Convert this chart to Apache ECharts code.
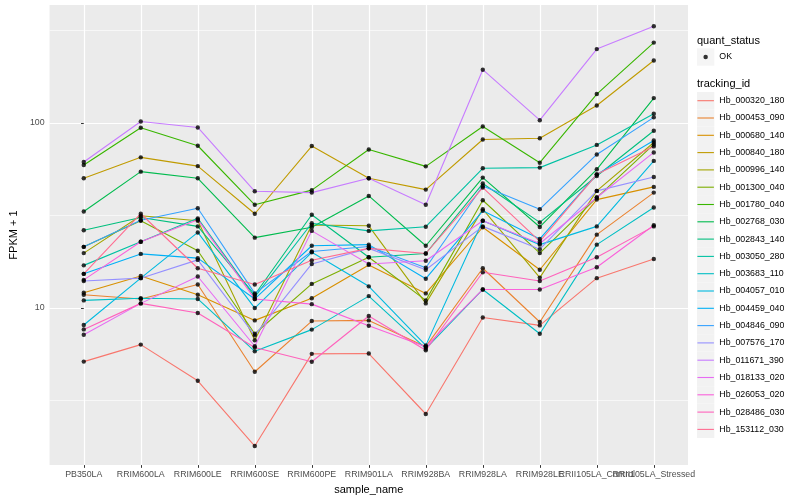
<!DOCTYPE html>
<html><head><meta charset="utf-8">
<script src="https://cdn.jsdelivr.net/npm/echarts@6/dist/echarts.min.js"></script>
<style>html,body{margin:0;padding:0;background:#fff}#c{width:800px;height:500px}</style>
</head><body><div id="c"></div>
<script>
const samples = ['PB350LA','RRIM600LA','RRIM600LE','RRIM600SE','RRIM600PE','RRIM901LA','RRIM928BA','RRIM928LA','RRIM928LE','RRII105LA_Control','RRII105LA_Stressed'];
const trackingIds = ['Hb_000320_180','Hb_000453_090','Hb_000680_140','Hb_000840_180','Hb_000996_140','Hb_001300_040','Hb_001780_040','Hb_002768_030','Hb_002843_140','Hb_003050_280','Hb_003683_110','Hb_004057_010','Hb_004459_040','Hb_004846_090','Hb_007576_170','Hb_011671_390','Hb_018133_020','Hb_026053_020','Hb_028486_030','Hb_153112_030'];
const colors = ['#F8766D','#EA8331','#D89000','#C09B00','#A3A500','#7CAE00','#39B600','#00BB4E','#00BF7D','#00C1A3','#00BFC4','#00BAE0','#00B0F6','#35A2FF','#9590FF','#C77CFF','#E76BF3','#FA62DB','#FF62BC','#FF6C91'];

const hb_000320_180 = [5.14, 6.35, 4.05, 1.80, 5.66, 5.68, 2.68, 8.90, 8.06, 14.5, 18.4];
const hb_000453_090 = [11.8, 11.2, 13.4, 4.53, 8.51, 8.58, 6.19, 16.4, 8.41, 24.9, 42.0];
const hb_000680_140 = [12.1, 14.9, 11.8, 8.58, 11.3, 17.1, 12.0, 27.3, 16.1, 38.5, 45.1];
const hb_000840_180 = [50.2, 65.1, 58.4, 32.3, 74.9, 50.2, 43.6, 81.3, 82.6, 124, 217];
const hb_000996_140 = [19.8, 31.5, 29.6, 6.70, 28.1, 27.8, 10.6, 34.2, 14.6, 42.9, 78.3];
const hb_001300_040 = [21.4, 29.6, 20.4, 7.27, 13.5, 18.8, 11.0, 38.2, 19.8, 39.5, 76.4];
const hb_001780_040 = [59.2, 94.0, 75.2, 36.1, 43.3, 71.8, 58.2, 95.5, 60.9, 143, 271];
const hb_002768_030 = [33.2, 54.5, 50.2, 24.0, 27.3, 40.3, 21.7, 50.6, 27.4, 56.1, 136];
const hb_002843_140 = [26.3, 30.8, 27.6, 11.8, 31.9, 18.8, 19.7, 47.0, 29.0, 51.6, 90.6];
const hb_003050_280 = [17.0, 22.8, 30.5, 11.5, 28.7, 26.1, 27.5, 56.8, 57.3, 76.0, 112];
const hb_003683_110 = [11.0, 11.3, 11.2, 5.84, 7.65, 11.6, 6.04, 12.6, 7.27, 22.0, 34.9];
const hb_004057_010 = [8.10, 14.5, 25.6, 10.0, 20.0, 13.1, 6.29, 29.6, 22.0, 27.6, 62.3];
const hb_004459_040 = [15.3, 19.6, 18.6, 11.2, 21.7, 22.0, 14.4, 33.5, 23.6, 52.7, 80.3];
const hb_004846_090 = [21.4, 29.8, 34.6, 12.0, 20.2, 21.5, 16.5, 45.6, 34.2, 67.5, 107];
const hb_007576_170 = [14.0, 14.5, 18.2, 7.12, 17.3, 21.0, 16.1, 27.6, 20.8, 42.9, 51.0];
const hb_011671_390 = [61.4, 101.6, 94.4, 42.7, 42.0, 50.2, 36.1, 193.5, 103.3, 250, 332];
const hb_018133_020 = [7.18, 10.6, 14.8, 6.22, 26.1, 17.3, 18.0, 29.6, 22.3, 39.5, 69.2];
const hb_026053_020 = [14.2, 22.8, 30.0, 11.2, 10.5, 8.03, 6.19, 12.6, 12.6, 16.6, 28.0];
const hb_028486_030 = [7.67, 10.6, 9.40, 6.12, 5.13, 9.06, 5.92, 15.6, 14.0, 18.8, 27.6];
const hb_153112_030 = [15.3, 32.3, 16.4, 13.4, 18.1, 21.0, 19.7, 44.7, 22.9, 52.7, 74.6];

const seriesValues = [hb_000320_180, hb_000453_090, hb_000680_140, hb_000840_180, hb_000996_140, hb_001300_040, hb_001780_040, hb_002768_030, hb_002843_140, hb_003050_280, hb_003683_110, hb_004057_010, hb_004459_040, hb_004846_090, hb_007576_170, hb_011671_390, hb_018133_020, hb_026053_020, hb_028486_030, hb_153112_030];

const yTickValues = [10, 100];
const yMinorValues = [3.162, 31.62, 316.2];
const xTickValues = samples.map((s, i) => i);
// labels split over two overlapping axes so that ECharts draws every one of them
const xLabelsA = xTickValues.filter(i => i % 2 === 0);
const xLabelsB = xTickValues.filter(i => i % 2 === 1);

const FONT = '"Liberation Sans", Arial, sans-serif';
const KEY = 17.3;

const chart = echarts.init(document.getElementById('c'), null, {renderer: 'canvas'});

const lineSeries = trackingIds.map((id, k) => ({
  name: id,
  type: 'line',
  xAxisIndex: 0, yAxisIndex: 0,
  data: seriesValues[k].map((v, i) => [i, v]),
  showSymbol: false,
  color: colors[k],
  lineStyle: {color: colors[k], width: 1.1},
  emphasis: {disabled: true},
  z: 2
}));

const pointSeries = {
  name: 'OK',
  type: 'scatter',
  xAxisIndex: 0, yAxisIndex: 0,
  data: [].concat(...seriesValues.map(vals => vals.map((v, i) => [i, v]))),
  symbol: 'circle',
  symbolSize: 4.4,
  itemStyle: {color: '#000'},
  emphasis: {disabled: true},
  z: 3
};

const lineIcon = 'path://M0,0M17.3,17.3M0.4,8.1L16.9,8.1L16.9,9.2L0.4,9.2Z';
const dotIcon = 'path://M0,0M17.3,17.3M6.4,8.65A2.25,2.25,0,1,0,10.9,8.65A2.25,2.25,0,1,0,6.4,8.65Z';

const legendBase = {
  orient: 'vertical', left: 697, padding: 0, itemWidth: KEY, itemHeight: KEY, itemGap: 0,
  selectedMode: false, inactiveColor: '#F2F2F2'
};

const xLabelStyle = {formatter: v => samples[Math.round(v)] || '', fontSize: 8.8, color: '#4D4D4D', margin: 5, hideOverlap: false, showMinLabel: true, showMaxLabel: true, fontFamily: FONT};

const option = {
  animation: false,
  backgroundColor: '#fff',
  textStyle: {fontFamily: FONT},
  grid: {left: 40, right: 112, top: 5, bottom: 33, show: true, backgroundColor: '#EBEBEB', borderWidth: 0, containLabel: false},
  title: [
    {text: 'quant_status', left: 697, top: 35, padding: 0, textStyle: {fontSize: 11, fontWeight: 'normal', color: '#000', fontFamily: FONT}},
    {text: 'tracking_id', left: 697, top: 78, padding: 0, textStyle: {fontSize: 11, fontWeight: 'normal', color: '#000', fontFamily: FONT}}
  ],
  legend: [
    Object.assign({}, legendBase, {top: 57 - KEY / 2, icon: 'rect', data: ['OK'],
      itemStyle: {color: '#F2F2F2', borderWidth: 0},
      textStyle: {fontSize: 8.8, color: '#000', fontFamily: FONT}}),
    Object.assign({}, legendBase, {top: 57 - KEY / 2, icon: dotIcon, data: ['OK'],
      itemStyle: {color: '#000', borderWidth: 0},
      textStyle: {fontSize: 8.8, color: 'rgba(0,0,0,0)', fontFamily: FONT}}),
    Object.assign({}, legendBase, {top: 100.7 - KEY / 2, icon: 'rect', data: trackingIds,
      itemStyle: {color: '#F2F2F2', borderWidth: 0},
      textStyle: {fontSize: 8.8, color: '#000', fontFamily: FONT}}),
    Object.assign({}, legendBase, {top: 100.7 - KEY / 2, icon: lineIcon,
      data: trackingIds.map((id, k) => ({name: id, itemStyle: {color: colors[k]}})),
      itemStyle: {borderWidth: 0},
      textStyle: {fontSize: 8.8, color: 'rgba(0,0,0,0)', fontFamily: FONT}})
  ],
  xAxis: [
    {
      type: 'value', min: -0.6, max: 10.6, position: 'bottom', offset: 0,
      name: 'sample_name', nameLocation: 'middle', nameGap: 15,
      nameTextStyle: {fontSize: 11, color: '#000', fontFamily: FONT},
      axisLine: {show: false},
      axisTick: {show: true, length: 2.75, lineStyle: {color: '#333333', width: 1}, customValues: xTickValues},
      axisLabel: Object.assign({customValues: xLabelsA}, xLabelStyle),
      splitLine: {show: true, lineStyle: {color: '#FFFFFF', width: 1.2}}
    },
    {
      type: 'value', min: -0.6, max: 10.6, position: 'bottom', offset: 0,
      axisLine: {show: false},
      axisTick: {show: false, customValues: xLabelsB},
      axisLabel: Object.assign({customValues: xLabelsB}, xLabelStyle),
      splitLine: {show: false}
    }
  ],
  yAxis: [
    {
      type: 'log', logBase: 10, min: 1.42, max: 432.5,
      name: 'FPKM + 1', nameLocation: 'middle', nameGap: 23,
      nameTextStyle: {fontSize: 11, color: '#000', fontFamily: FONT},
      axisLine: {show: false},
      axisTick: {show: true, length: 2.75, lineStyle: {color: '#333333', width: 1}, customValues: yTickValues},
      axisLabel: {customValues: yTickValues, formatter: v => String(Math.round(v)), fontSize: 8.8, color: '#4D4D4D', margin: 5, showMinLabel: true, showMaxLabel: true, fontFamily: FONT},
      splitLine: {show: true, lineStyle: {color: '#FFFFFF', width: 1.2}}
    },
    {
      type: 'log', logBase: 10, min: 1.42, max: 432.5, position: 'left',
      axisLine: {show: false},
      axisTick: {show: false, customValues: yMinorValues},
      axisLabel: {show: false, customValues: yMinorValues},
      splitLine: {show: true, lineStyle: {color: '#FFFFFF', width: 0.6}}
    }
  ],
  series: lineSeries.concat([pointSeries])
};
chart.setOption(option);
</script>
</body></html>
